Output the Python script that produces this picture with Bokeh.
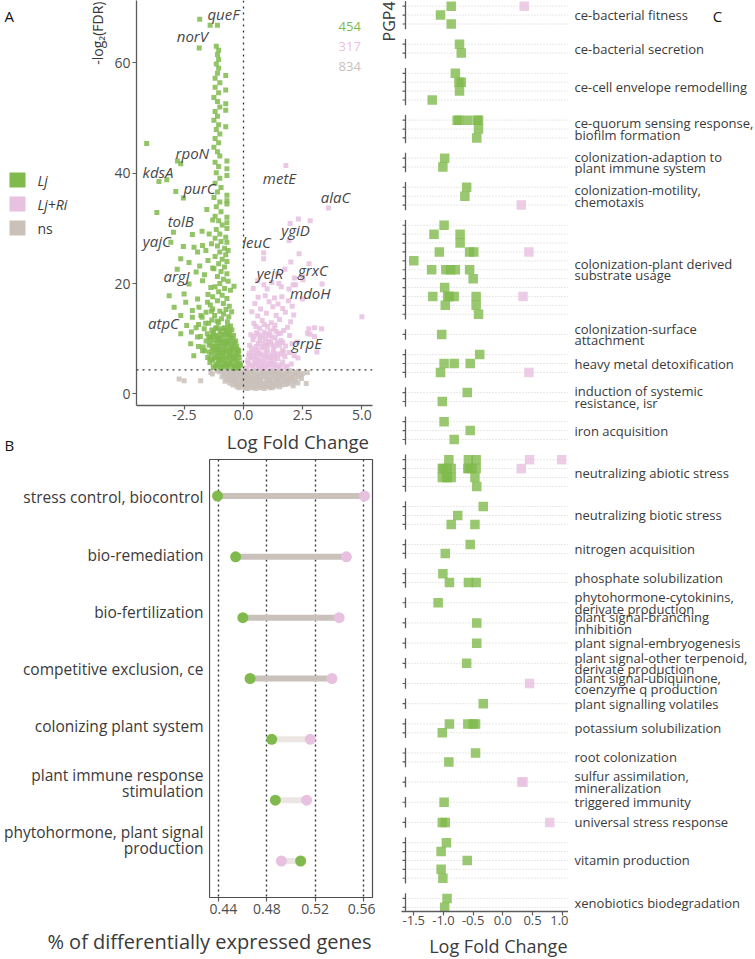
from bokeh.plotting import figure
from bokeh.models import Range1d, FixedTicker, PrintfTickFormatter, Span
from bokeh.layouts import row, column
from bokeh.embed import file_html
from bokeh.resources import INLINE
from bokeh.core.properties import value

FONT = "Open Sans"
GREEN, PINK, GRAY = "#80ba4c", "#e8c0e0", "#cac1bb"
TXT = "#3a3a3a"
AXC = "#5c5c5c"

# ---------------- Panel A data (volcano) ----------------
legend_labels = ["Lj", "Lj+Ri", "ns"]
group_counts = ["454", "317", "834"]
fdr_threshold = 4.35

lj_points = [
    (-1.85, 67.9), (-1.41, 66.8), (-1.10, 66.8), (-1.87, 62.7),
    (-1.15, 63.0), (-1.05, 62.3), (-1.10, 61.5), (-1.05, 60.6), (-1.15, 59.8), (-1.05, 59.0),
    (-1.10, 58.1), (-0.75, 57.7), (-1.20, 57.2), (-1.00, 56.4), (-1.20, 55.6), (-0.75, 55.1),
    (-1.05, 54.6), (-1.25, 53.7), (-1.10, 53.0), (-0.75, 52.6), (-1.00, 52.0), (-0.75, 51.4),
    (-1.20, 51.2), (-1.10, 50.3), (-1.25, 49.6), (-1.05, 48.8), (-0.75, 48.4), (-1.15, 47.9),
    (-1.00, 47.1), (-1.20, 46.3), (-1.05, 45.5), (-1.25, 44.7), (-1.10, 43.9), (-1.00, 43.1),
    (-0.70, 42.2), (-1.20, 42.0), (-1.05, 41.2), (-0.70, 40.8), (-1.15, 40.1), (-0.70, 39.6),
    (-1.00, 39.1), (-1.20, 38.2), (-0.95, 37.4), (-1.10, 36.6), (-0.70, 36.0), (-1.25, 35.6),
    (-0.70, 35.0), (-1.00, 34.8), (-0.70, 34.4), (-1.15, 33.9), (-0.95, 33.0), (-1.20, 32.2),
    (-0.70, 32.0), (-1.05, 31.4), (-0.70, 31.0), (-0.90, 30.6), (-1.15, 29.8), (-0.70, 30.0),
    (-1.00, 29.0), (-0.75, 28.4), (-1.20, 28.2), (-0.95, 27.6), (-0.70, 27.5), (-1.10, 26.8),
    (-0.80, 26.4), (-0.65, 26.0), (-1.00, 25.7), (-0.75, 25.2), (-1.20, 24.9), (-0.90, 24.4),
    (-0.70, 24.0), (-1.05, 23.6), (-0.80, 23.0), (-1.25, 22.7), (-0.95, 22.2), (-0.70, 21.8),
    (-1.10, 21.3), (-0.85, 20.8), (-0.65, 20.4), (-1.00, 20.0), (-0.40, 19.5), (-1.20, 19.4),
    (-0.80, 19.1), (-0.55, 18.8), (-1.05, 18.5), (-0.90, 17.9), (-1.30, 17.6), (-0.70, 17.3),
    (-1.10, 16.9), (-0.85, 16.4), (-1.40, 16.1), (-0.60, 15.9),
    (-4.09, 45.4), (-2.79, 42.2), (-2.65, 41.7), (-3.57, 38.5), (-3.24, 38.8), (-2.86, 36.7),
    (-2.54, 35.5), (-1.55, 33.4), (-3.66, 32.9), (-2.96, 29.3), (-2.16, 28.9), (-3.07, 27.5),
    (-2.54, 26.7), (-2.09, 26.6), (-1.94, 25.7), (-1.73, 26.9), (-1.59, 26.0), (-1.75, 29.5),
    (-2.65, 24.5), (-2.30, 23.8), (-1.85, 23.2), (-1.50, 24.2), (-2.80, 22.6), (-2.00, 22.1),
    (-1.65, 21.6), (-1.30, 22.8), (-2.30, 19.9), (-1.73, 20.5), (-1.38, 19.3), (-2.51, 18.1),
    (-3.14, 17.8), (-2.44, 16.6), (-1.94, 17.2), (-2.93, 15.7), (-2.16, 15.1), (-1.88, 15.7),
    (-1.52, 16.6), (-2.65, 14.2), (-2.16, 13.9), (-1.80, 14.2), (-2.65, 10.9), (-2.23, 9.1),
    (-1.94, 10.3), (-1.73, 7.8), (-2.40, 12.4), (-2.00, 12.0), (-1.60, 12.8), (-2.20, 11.2),
    (-1.90, 8.6), (-2.10, 6.9), (-1.30, 31.5), (-1.45, 29.0), (-1.35, 27.2), (-1.50, 18.0),
    (-1.35, 15.0),
    (-1.28, 4.8), (-1.12, 5.4), (-0.97, 4.7), (-0.86, 5.2), (-0.71, 4.9), (-0.58, 5.6), (-0.44, 4.6),
    (-0.33, 5.3), (-0.21, 4.9), (-1.42, 5.7), (-0.12, 5.2), (-1.05, 6.0), (-0.79, 5.8), (-0.50, 6.1),
    (-0.27, 5.9), (-1.51, 6.6), (-1.36, 7.2), (-1.21, 6.5), (-1.09, 7.0), (-0.94, 6.7), (-0.82, 7.5),
    (-0.67, 6.4), (-0.55, 7.1), (-0.41, 6.8), (-0.30, 7.4), (-0.18, 6.6), (-1.64, 7.8), (-1.28, 7.9),
    (-1.01, 7.7), (-0.74, 7.9), (-0.47, 7.8), (-0.25, 8.0), (-1.70, 8.5), (-1.45, 8.8), (-1.32, 8.3),
    (-1.17, 9.1), (-1.04, 8.6), (-0.90, 9.3), (-0.77, 8.7), (-0.63, 9.0), (-0.52, 8.4), (-0.38, 9.2),
    (-0.29, 8.7), (-1.58, 9.6), (-1.24, 9.8), (-0.97, 9.9), (-0.70, 9.6), (-0.45, 9.9), (-1.82, 10.4),
    (-1.53, 10.9), (-1.39, 10.3), (-1.26, 11.2), (-1.11, 10.6), (-0.99, 11.4), (-0.86, 10.8),
    (-0.72, 11.1), (-0.60, 10.5), (-0.49, 11.6), (-1.66, 11.8), (-1.18, 11.9), (-0.80, 12.0),
    (-0.55, 12.3), (-1.90, 12.6), (-1.47, 12.8), (-1.34, 13.4), (-1.06, 12.9), (-0.93, 13.6),
    (-0.68, 13.1), (-1.75, 13.9), (-1.22, 14.2), (-0.84, 14.5), (-0.62, 14.0), (-1.58, 14.8),
    (-1.00, 15.0), (-0.74, 15.3), (-1.30, 15.4), (-0.50, 14.9),
    (-1.15, 5.0), (-0.90, 6.2), (-0.62, 5.4), (-0.37, 6.3), (-1.30, 6.1), (-1.12, 8.2), (-0.86, 8.0),
    (-0.58, 8.1), (-1.40, 9.9), (-0.83, 9.4), (-1.30, 10.8), (-0.66, 12.2), (-1.12, 13.2),
    (-1.20, 5.1), (-1.02, 5.5), (-0.92, 4.9), (-0.78, 5.5), (-0.66, 5.0), (-0.52, 5.3), (-0.40, 5.0),
    (-0.28, 4.7), (-0.16, 5.6), (-1.38, 6.3), (-1.16, 6.6), (-1.00, 6.3), (-0.87, 6.9), (-0.73, 6.6),
    (-0.60, 6.9), (-0.46, 6.4), (-0.34, 6.9), (-0.22, 7.2), (-1.45, 7.6), (-1.18, 7.5), (-1.06, 8.1),
    (-0.95, 7.4), (-0.69, 7.6), (-0.57, 7.7), (-0.36, 8.2), (-0.20, 7.8), (-1.38, 9.2), (-1.26, 8.6),
    (-1.10, 9.7), (-0.99, 9.1), (-0.84, 8.5), (-0.72, 9.3), (-0.58, 9.6), (-0.48, 8.9), (-0.33, 9.6),
    (-1.47, 10.3), (-1.20, 10.4), (-1.04, 10.1), (-0.93, 10.7), (-0.78, 10.2), (-0.66, 10.8),
    (-0.53, 10.3), (-0.42, 10.6), (-1.34, 11.6), (-1.12, 12.0), (-0.92, 11.8), (-0.74, 11.5),
    (-0.58, 11.3),
]

ljri_points = [
    (1.79, 41.4), (3.59, 33.7), (2.32, 31.7), (2.82, 31.4), (1.97, 30.9), (1.93, 27.8),
    (0.85, 25.6), (0.85, 24.5), (2.35, 25.4), (2.00, 23.9), (2.77, 23.6), (3.32, 19.9),
    (2.49, 21.3), (2.49, 17.2), (5.00, 14.0), (1.75, 22.6), (1.45, 21.8), (2.15, 21.0),
    (1.20, 20.2), (0.60, 20.5), (1.00, 19.0), (1.60, 19.4), (2.10, 19.8), (3.00, 12.0),
    (3.30, 11.8), (3.00, 10.4), (3.10, 7.6), (2.70, 11.0), (2.30, 6.5), (2.51, 20.7),
    (2.20, 19.8), (0.86, 19.8), (0.41, 19.1), (1.49, 20.0), (1.92, 19.0),
    (0.12, 4.7), (0.28, 5.3), (0.41, 4.9), (0.55, 5.6), (0.67, 4.8), (0.83, 5.2), (0.96, 4.6),
    (1.08, 5.5), (1.22, 4.9), (1.37, 5.3), (1.51, 4.7), (1.66, 5.8), (1.84, 5.0), (2.02, 5.4),
    (0.18, 6.0), (0.47, 6.3), (0.74, 5.9), (1.15, 6.1), (1.45, 6.4),
    (0.22, 6.9), (0.36, 7.6), (0.58, 6.7), (0.71, 7.3), (0.89, 6.5), (1.01, 7.8), (1.18, 7.0),
    (1.32, 6.6), (1.58, 7.2), (1.75, 6.8), (1.93, 7.5), (2.14, 6.9), (0.49, 8.0), (0.84, 8.3),
    (1.27, 8.1), (1.64, 7.9),
    (0.26, 8.8), (0.62, 9.2), (0.77, 8.6), (1.06, 9.5), (1.21, 8.9), (1.43, 9.3), (1.78, 8.7),
    (2.05, 9.1), (0.40, 9.8), (0.93, 10.0), (1.34, 10.2), (1.59, 9.7), (2.28, 9.4),
    (0.31, 10.7), (0.55, 11.1), (0.81, 10.5), (1.12, 11.4), (1.47, 10.9), (1.70, 11.5), (1.95, 10.6),
    (0.68, 11.9), (1.02, 12.2), (1.29, 11.8), (1.86, 12.1), (2.76, 11.8), (2.81, 10.8),
    (0.44, 12.8), (0.79, 13.3), (1.17, 12.9), (1.52, 13.5), (1.99, 13.1), (0.60, 14.1), (0.97, 14.6),
    (1.38, 14.2), (1.77, 14.8), (2.12, 14.3), (0.35, 14.9),
    (0.72, 15.4), (1.24, 15.8), (1.66, 15.5), (2.06, 15.9), (0.48, 16.4), (1.08, 16.7), (1.46, 16.3),
    (1.90, 16.9), (0.62, 17.5), (0.92, 17.8), (1.31, 17.4), (1.62, 17.6),
    (0.35, 5.1), (0.61, 5.0), (0.90, 5.7), (1.30, 5.8), (0.30, 6.5), (0.66, 6.1), (1.00, 6.8),
    (1.25, 7.5), (0.53, 7.4), (0.95, 8.9), (1.10, 10.6), (0.70, 10.2),
    (0.20, 5.6), (0.48, 5.5), (0.73, 5.1), (0.88, 4.8), (1.02, 5.2), (1.18, 5.4), (1.43, 4.9),
    (1.59, 5.3), (1.76, 4.8), (0.25, 7.4), (0.42, 6.8), (0.62, 7.7), (0.80, 7.0), (0.95, 7.4),
    (1.10, 6.5), (1.28, 6.9), (1.42, 7.3), (1.70, 7.6), (0.33, 8.3), (0.55, 8.6), (0.69, 9.6),
    (0.86, 9.2), (1.00, 8.6), (1.15, 9.4), (1.32, 8.7), (1.52, 8.8), (1.66, 9.3), (0.45, 10.4),
    (0.63, 10.8), (0.87, 11.2), (1.00, 10.8), (1.21, 10.3), (1.38, 11.3), (1.57, 11.0), (0.52, 12.2),
    (0.88, 12.6), (1.33, 12.5),
]

ns_points = [
    (-2.72, 2.7), (-2.51, 2.4), (-1.81, 2.4), (-1.38, 3.9), (-1.31, 3.6),
    (2.70, 3.9), (2.65, 1.9), (2.45, 2.8), (-1.10, 4.2), (-0.90, 4.3), (2.50, 3.7), (2.30, 2.0),
    (2.10, 1.5),
    (-1.02, 4.0), (-0.83, 3.7), (-0.66, 4.1), (-0.48, 3.5), (-0.31, 4.0), (-0.12, 3.6), (0.05, 4.1),
    (0.22, 3.7), (0.41, 4.0), (0.58, 3.4), (0.77, 3.9), (0.95, 3.6), (1.12, 4.1), (1.31, 3.5),
    (1.49, 3.9), (1.68, 3.6), (1.87, 4.0), (2.06, 3.5), (2.25, 3.9), (2.42, 3.4),
    (-0.91, 3.1), (-0.72, 2.8), (-0.55, 3.2), (-0.37, 2.7), (-0.19, 3.0), (0.01, 2.6), (0.15, 3.1),
    (0.33, 2.8), (0.50, 3.2), (0.68, 2.7), (0.86, 3.0), (1.04, 2.6), (1.22, 3.1), (1.40, 2.8),
    (1.58, 3.2), (1.77, 2.7), (1.95, 3.0), (2.14, 2.6), (2.32, 3.1),
    (-0.78, 2.3), (-0.58, 2.0), (-0.40, 2.4), (-0.22, 1.9), (-0.05, 2.2), (0.12, 1.7), (0.28, 2.3),
    (0.46, 1.9), (0.63, 2.2), (0.81, 1.8), (0.99, 2.3), (1.17, 1.9), (1.35, 2.2), (1.53, 1.8),
    (1.71, 2.3), (1.90, 1.9), (2.08, 2.2),
    (-0.45, 1.6), (-0.27, 1.3), (-0.08, 1.5), (0.09, 1.1), (0.26, 1.4), (0.44, 1.2), (0.62, 1.5),
    (0.79, 1.2), (0.97, 1.4), (1.15, 1.1), (1.33, 1.5), (1.52, 1.3),
    (-0.60, 3.6), (-0.25, 3.3), (0.10, 3.4), (0.45, 3.5), (0.90, 3.3), (1.25, 3.8), (1.60, 2.9),
    (-0.45, 2.8), (0.20, 2.4), (0.55, 2.6), (1.10, 2.1), (1.45, 2.6), (1.85, 2.5),
    (-0.70, 3.9), (-0.52, 4.2), (-0.35, 3.8), (-0.17, 4.2), (0.00, 3.8), (0.15, 4.2), (0.30, 3.9),
    (0.50, 4.2), (0.66, 3.7), (0.85, 4.2), (1.03, 3.8), (1.20, 4.2), (1.40, 3.7), (1.58, 4.2),
    (1.78, 3.8), (1.96, 4.2), (2.15, 3.7), (2.33, 4.1),
    (-0.80, 3.4), (-0.62, 3.1), (-0.44, 3.4), (-0.28, 2.9), (-0.10, 3.3), (0.07, 2.9), (0.24, 3.3),
    (0.40, 2.9), (0.58, 3.0), (0.77, 3.4), (0.95, 3.1), (1.13, 3.4), (1.31, 3.1), (1.50, 3.4),
    (1.68, 3.0), (1.86, 3.4), (2.04, 3.1), (2.22, 3.4),
    (-0.65, 2.5), (-0.50, 2.6), (-0.30, 2.2), (-0.12, 2.6), (0.06, 2.3), (0.22, 2.0), (0.38, 2.6),
    (0.55, 2.3), (0.72, 2.5), (0.90, 2.0), (1.08, 2.5), (1.26, 2.4), (1.44, 2.0), (1.62, 2.5),
    (1.80, 2.1), (1.98, 2.6), (2.20, 2.4),
    (-0.35, 1.8), (-0.17, 1.6), (0.00, 1.9), (0.18, 1.5), (0.35, 1.8), (0.53, 1.6), (0.71, 1.9),
    (0.88, 1.6), (1.06, 1.8), (1.24, 1.6), (1.42, 1.8), (1.62, 1.6), (1.80, 1.7),
    (-0.18, 1.1), (0.00, 1.2), (0.17, 1.0), (0.35, 1.1), (0.53, 1.0), (0.70, 1.1), (0.88, 1.0),
    (1.05, 1.3), (1.25, 1.2),
]

gene_labels = ["queF", "norV", "rpoN", "kdsA", "purC", "tolB", "yajC", "argJ", "atpC",
               "metE", "alaC", "ygiD", "leuC", "yejR", "grxC", "mdoH", "grpE"]
gene_lfc = [-0.85, -2.16, -2.16, -3.61, -1.86, -2.65, -3.66, -2.83, -3.38,
            1.52, 3.89, 2.20, 0.55, 1.12, 2.93, 2.82, 2.68]
gene_fdr = [68.8, 64.8, 43.7, 40.3, 37.3, 31.4, 27.8, 21.3, 12.8,
            39.1, 35.6, 29.7, 27.6, 22.0, 22.5, 18.3, 9.2]

# ---------------- Panel B data (dumbbell) ----------------
b_categories = ["stress control, biocontrol", "bio-remediation", "bio-fertilization",
                "competitive exclusion, ce", "colonizing plant system",
                "plant immune response\nstimulation", "phytohormone, plant signal\nproduction"]
b_lj = [0.439, 0.454, 0.460, 0.466, 0.484, 0.487, 0.508]
b_ljri = [0.561, 0.546, 0.540, 0.534, 0.516, 0.513, 0.492]

# ---------------- Panel C data ----------------
c_categories = [
    "ce-bacterial fitness", "ce-bacterial secretion", "ce-cell envelope remodelling",
    "ce-quorum sensing response,\nbiofilm formation", "colonization-adaption to\nplant immune system",
    "colonization-motility,\nchemotaxis", "colonization-plant derived\nsubstrate usage",
    "colonization-surface\nattachment", "heavy metal detoxification",
    "induction of systemic\nresistance, isr", "iron acquisition", "neutralizing abiotic stress",
    "neutralizing biotic stress", "nitrogen acquisition", "phosphate solubilization",
    "phytohormone-cytokinins,\nderivate production", "plant signal-branching\ninhibition",
    "plant signal-embryogenesis", "plant signal-other terpenoid,\nderivate production",
    "plant signal-ubiquinone,\ncoenzyme q production", "plant signalling volatiles",
    "potassium solubilization", "root colonization", "sulfur assimilation,\nmineralization",
    "triggered immunity", "universal stress response", "vitamin production",
    "xenobiotics biodegradation",
]
c_rows_per_cat = [3, 2, 4, 3, 2, 3, 11, 1, 3, 2, 3, 4, 3, 2, 2, 1, 1, 1, 1, 1, 1, 2, 2, 1, 1, 1, 5, 2]
c_points = [
    (0, 0, -0.87, "Lj"), (0, 0, 0.36, "Lj+Ri"), (0, 1, -1.05, "Lj"), (0, 2, -0.87, "Lj"),
    (1, 0, -0.73, "Lj"), (1, 1, -0.70, "Lj"),
    (2, 0, -0.80, "Lj"), (2, 1, -0.74, "Lj"), (2, 1, -0.70, "Lj"), (2, 2, -0.73, "Lj"), (2, 3, -1.19, "Lj"),
    (3, 0, -0.77, "Lj"), (3, 0, -0.74, "Lj"), (3, 0, -0.59, "Lj"), (3, 0, -0.43, "Lj"), (3, 0, -0.41, "Lj"),
    (3, 1, -0.41, "Lj"), (3, 2, -0.44, "Lj"),
    (4, 0, -0.98, "Lj"), (4, 1, -1.01, "Lj"),
    (5, 0, -0.61, "Lj"), (5, 1, -0.64, "Lj"), (5, 2, 0.31, "Lj+Ri"),
    (6, 0, -0.99, "Lj"), (6, 1, -1.16, "Lj"), (6, 1, -0.72, "Lj"), (6, 2, -0.72, "Lj"),
    (6, 3, -1.07, "Lj"), (6, 3, -0.56, "Lj"), (6, 3, -0.49, "Lj"), (6, 3, 0.44, "Lj+Ri"),
    (6, 4, -1.50, "Lj"),
    (6, 5, -1.20, "Lj"), (6, 5, -0.96, "Lj"), (6, 5, -0.88, "Lj"), (6, 5, -0.80, "Lj"), (6, 5, -0.56, "Lj"),
    (6, 6, -0.50, "Lj"), (6, 7, -0.98, "Lj"),
    (6, 8, -1.18, "Lj"), (6, 8, -0.93, "Lj"), (6, 8, -0.90, "Lj"), (6, 8, -0.82, "Lj"), (6, 8, -0.45, "Lj"),
    (6, 8, 0.34, "Lj+Ri"),
    (6, 9, -0.97, "Lj"), (6, 9, -0.45, "Lj"), (6, 10, -0.41, "Lj"),
    (7, 0, -1.03, "Lj"),
    (8, 0, -0.39, "Lj"), (8, 1, -0.99, "Lj"), (8, 1, -0.82, "Lj"), (8, 1, -0.55, "Lj"),
    (8, 2, -1.05, "Lj"), (8, 2, 0.44, "Lj+Ri"),
    (9, 0, -0.60, "Lj"), (9, 1, -1.02, "Lj"),
    (10, 0, -0.99, "Lj"), (10, 1, -0.55, "Lj"), (10, 2, -0.82, "Lj"),
    (11, 0, -0.91, "Lj"), (11, 0, -0.58, "Lj"), (11, 0, -0.45, "Lj"), (11, 0, 0.45, "Lj+Ri"), (11, 0, 0.99, "Lj+Ri"),
    (11, 1, -1.02, "Lj"), (11, 1, -1.00, "Lj"), (11, 1, -0.94, "Lj"), (11, 1, -0.87, "Lj"), (11, 1, -0.59, "Lj"),
    (11, 1, -0.57, "Lj"), (11, 1, -0.52, "Lj"), (11, 1, -0.45, "Lj"), (11, 1, 0.31, "Lj+Ri"),
    (11, 2, -1.02, "Lj"), (11, 2, -0.95, "Lj"), (11, 2, -0.93, "Lj"), (11, 2, -0.87, "Lj"), (11, 2, -0.47, "Lj"),
    (11, 3, -0.44, "Lj"),
    (12, 0, -0.33, "Lj"), (12, 1, -0.76, "Lj"), (12, 2, -0.87, "Lj"), (12, 2, -0.47, "Lj"),
    (13, 0, -0.55, "Lj"), (13, 1, -0.97, "Lj"),
    (14, 0, -1.01, "Lj"), (14, 1, -0.90, "Lj"), (14, 1, -0.58, "Lj"), (14, 1, -0.45, "Lj"),
    (15, 0, -1.09, "Lj"), (16, 0, -0.44, "Lj"), (17, 0, -0.44, "Lj"), (18, 0, -0.61, "Lj"),
    (19, 0, 0.45, "Lj+Ri"), (20, 0, -0.33, "Lj"),
    (21, 0, -0.90, "Lj"), (21, 0, -0.59, "Lj"), (21, 0, -0.50, "Lj"), (21, 0, -0.46, "Lj"), (21, 1, -1.02, "Lj"),
    (22, 0, -0.46, "Lj"), (22, 1, -0.91, "Lj"),
    (23, 0, 0.32, "Lj+Ri"), (23, 0, 0.34, "Lj+Ri"),
    (24, 0, -0.99, "Lj"),
    (25, 0, -1.02, "Lj"), (25, 0, -0.97, "Lj"), (25, 0, 0.79, "Lj+Ri"),
    (26, 0, -0.95, "Lj"), (26, 1, -1.04, "Lj"), (26, 2, -0.60, "Lj"), (26, 3, -1.04, "Lj"), (26, 4, -1.01, "Lj"),
    (27, 0, -0.94, "Lj"), (27, 1, -0.98, "Lj"),
]

GROUP_COLOR = {"Lj": GREEN, "Lj+Ri": PINK, "ns": GRAY}


def style_axis(ax, size="14px"):
    ax.axis_line_color = AXC
    ax.axis_line_width = 1.3
    ax.major_tick_line_color = AXC
    ax.major_tick_line_width = 1.2
    ax.major_tick_in = 0
    ax.major_tick_out = 4
    ax.minor_tick_line_color = None
    ax.major_label_text_font = FONT
    ax.major_label_text_font_size = size
    ax.major_label_text_color = "#4d4d4d"
    ax.major_label_standoff = 2


def base_fig(**kw):
    p = figure(output_backend="svg", toolbar_location=None, **kw)
    p.background_fill_color = "white"
    p.border_fill_color = "white"
    p.outline_line_color = None
    return p


def strip(w, h, x0, y0):
    """blank figure whose data coordinates are page pixels (y grows downward)"""
    return base_fig(width=w, height=h, x_range=Range1d(x0, x0 + w), y_range=Range1d(y0 + h, y0),
                    x_axis_type=None, y_axis_type=None,
                    min_border_left=0, min_border_right=0, min_border_top=0, min_border_bottom=0)


def txt(p, x, y, s, size, align="left", style="normal", color=TXT, angle=0):
    p.text(x=[x], y=[y], text=[s], text_font=value(FONT), text_font_size=size, text_font_style=style,
           text_color=color, text_align=align, text_baseline="middle", angle=angle)


# ================= Legend strip for panel A (page x 0-110, y 0-455) =================
legA = base_fig(width=110, height=455, x_range=Range1d(0, 110), y_range=Range1d(0, 455),
                x_axis_type=None, y_axis_type=None,
                min_border_left=0, min_border_right=0, min_border_top=0, min_border_bottom=0)
H = 455
legA.quad(left=[9, 9, 9], right=[25, 25, 25], top=[H - 172, H - 196, H - 220],
          bottom=[H - 187, H - 211, H - 235], fill_color=[GREEN, PINK, GRAY], line_color=None)
txt(legA, 37, H - 180, legend_labels[0], "14px", style="italic")
txt(legA, 37, H - 204, legend_labels[1], "14px", style="italic")
txt(legA, 37, H - 228, legend_labels[2], "14px")
txt(legA, 4, H - 15, "A", "15px", color="#111111")
txt(legA, 4, H - 444, "B", "15px", color="#111111")
txt(legA, 97, H - 1, "-log\u2082(FDR)", "14px", align="right", angle=1.5707963)

# ================= Panel A =================
pA = base_fig(width=265, height=428, x_range=Range1d(-4.52, 5.45), y_range=Range1d(-2.1, 71.3),
              min_border_left=26, min_border_right=3, min_border_top=0, min_border_bottom=23)
pA.grid.visible = False
style_axis(pA.xaxis[0], "14px")
style_axis(pA.yaxis[0], "14px")
pA.xaxis.major_label_standoff = 0
pA.xaxis.ticker = FixedTicker(ticks=[-2.5, 0, 2.5, 5.0])
pA.xaxis.formatter = PrintfTickFormatter(format="%.1f")
pA.yaxis.ticker = FixedTicker(ticks=[0, 20, 40, 60])

pA.add_layout(Span(location=0, dimension="height", line_color="#333333", line_width=1.3, line_dash="2 4"))
pA.add_layout(Span(location=fdr_threshold, dimension="width", line_color="#333333", line_width=1.3,
                   line_dash="2 4"))

for pts, col in [(ns_points, GRAY), (ljri_points, PINK), (lj_points, GREEN)]:
    pA.scatter([p[0] for p in pts], [p[1] for p in pts], marker="square", size=5,
               fill_color=col, line_color=None, fill_alpha=0.85)

pA.text(x=gene_lfc, y=gene_fdr, text=gene_labels, text_font=value(FONT), text_font_style="italic",
        text_font_size="15px", text_color="#474747", text_align="center", text_baseline="middle")
pA.text(x=[4.96, 4.96, 4.96], y=[66.6, 63.0, 59.3], text=group_counts, text_font=value(FONT),
        text_font_size="13px", text_color=[GREEN, PINK, GRAY], text_align="right", text_baseline="middle")

stripA = strip(265, 27, 110, 428)
txt(stripA, 371, 441, "Log Fold Change", "18.5px", align="right")

# ================= Panel B =================
nb = len(b_categories)
b_y = [i + 1 for i in range(nb)]
B_TOP, B_ROW = 459.0, 60.83
pB = base_fig(width=166, height=467, x_range=Range1d(0.4323, 0.5677), y_range=Range1d(nb + 0.6, 0.4),
              min_border_left=0, min_border_right=3, min_border_top=4, min_border_bottom=25)
pB.outline_line_color = "#4d4d4d"
pB.outline_line_width = 1.2
pB.yaxis.visible = False
style_axis(pB.xaxis[0], "14px")
pB.xaxis.axis_line_color = None
pB.xaxis.ticker = FixedTicker(ticks=[0.44, 0.48, 0.52, 0.56])
pB.xaxis.formatter = PrintfTickFormatter(format="%.2f")
pB.ygrid.visible = False
pB.xgrid.ticker = FixedTicker(ticks=[0.44, 0.48, 0.52, 0.56])
pB.xgrid.grid_line_color = "#333333"
pB.xgrid.grid_line_dash = "2 3"
pB.xgrid.grid_line_width = 1.4

seg_colors = ["#cac1bb" if abs(b - a) > 0.05 else "#ebe6e3" for a, b in zip(b_lj, b_ljri)]
pB.segment(x0=b_lj, y0=b_y, x1=b_ljri, y1=b_y, line_width=6, line_color=seg_colors)
pB.scatter(b_ljri, b_y, size=11, fill_color=PINK, line_color=None)
pB.scatter(b_lj, b_y, size=11, fill_color=GREEN, line_color=None)

labB = strip(209, 467, 0, 455)
for i, cat in enumerate(b_categories):
    cy = B_TOP + (b_y[i] - 0.4) * B_ROW
    lines = cat.split("\n")
    for k, ln in enumerate(lines):
        txt(labB, 203, cy + (k - (len(lines) - 1) / 2) * 16.7, ln, "15.5px", align="right")

stripB = strip(375, 37, 0, 922)
txt(stripB, 371, 941, "% of differentially expressed genes", "20px", align="right")

# ================= Panel C =================
ROW, GAP, TOP = 8.9, 20.19, 5.7
cat_rows = []
yv = TOP
for n in c_rows_per_cat:
    rows_y = [yv + k * ROW for k in range(n)]
    cat_rows.append(rows_y)
    yv = rows_y[-1] + GAP
all_rows = [r for rr in cat_rows for r in rr]
cat_centers = [(rr[0] + rr[-1]) / 2 for rr in cat_rows]

PXU = 59.4
CX0, CX1 = -1.64, 1.106
pC = base_fig(width=167, height=933, x_range=Range1d(CX0 - 4 / PXU, CX1), y_range=Range1d(911, 0),
              y_axis_type=None,
              min_border_left=0, min_border_right=0, min_border_top=0, min_border_bottom=22)
style_axis(pC.xaxis[0], "13px")
pC.xaxis.major_label_standoff = 0
pC.xaxis.ticker = FixedTicker(ticks=[-1.5, -1.0, -0.5, 0.0, 0.5, 1.0])
pC.xaxis.formatter = PrintfTickFormatter(format="%.1f")
pC.xgrid.visible = False

nr = len(all_rows)
pC.segment(x0=[CX0] * nr, y0=all_rows, x1=[CX1] * nr, y1=all_rows,
           line_color="#c4c4c4", line_dash="1 2", line_width=0.8)
pC.segment(x0=[CX0 - 3 / PXU] * nr, y0=all_rows, x1=[CX0] * nr, y1=all_rows,
           line_color=AXC, line_width=1.2)
facet_top = [rr[0] - 5.3 for rr in cat_rows]
facet_bot = [rr[-1] + 5.3 for rr in cat_rows]
pC.segment(x0=[CX0] * len(cat_rows), y0=facet_top, x1=[CX0] * len(cat_rows), y1=facet_bot,
           line_color=AXC, line_width=1.3)

pt_x = [p[2] for p in c_points]
pt_y = [cat_rows[p[0]][p[1]] for p in c_points]
pt_c = [GROUP_COLOR[p[3]] for p in c_points]
pC.scatter(pt_x, pt_y, marker="square", size=9.5, fill_color=pt_c, line_color=None, fill_alpha=0.8)

stripC = strip(167, 26, 401, 933)
txt(stripC, 567, 945, "Log Fold Change", "18px", align="right")

stripP = base_fig(width=26, height=959, x_range=Range1d(375, 401), y_range=Range1d(0, 959),
                  x_axis_type=None, y_axis_type=None,
                  min_border_left=0, min_border_right=0, min_border_top=0, min_border_bottom=0)
txt(stripP, 388, 958, "PGP4", "16px", align="right", angle=1.5707963)

pLab = base_fig(width=187, height=959, x_range=Range1d(568, 755), y_range=pC.y_range,
                x_axis_type=None, y_axis_type=None,
                min_border_left=0, min_border_right=0, min_border_top=0, min_border_bottom=48)
for cat, cy in zip(c_categories, cat_centers):
    lines = cat.split("\n")
    for k, ln in enumerate(lines):
        txt(pLab, 574, cy + (k - (len(lines) - 1) / 2) * 11.5, ln, "13px")
txt(pLab, 717, 15, "C", "15px", align="center", color="#111111")

left = column(row(legA, column(pA, stripA)), row(labB, pB), stripB)
layout = row(left, stripP, column(pC, stripC), pLab)
open("out.html", "w").write(file_html(layout, INLINE))
